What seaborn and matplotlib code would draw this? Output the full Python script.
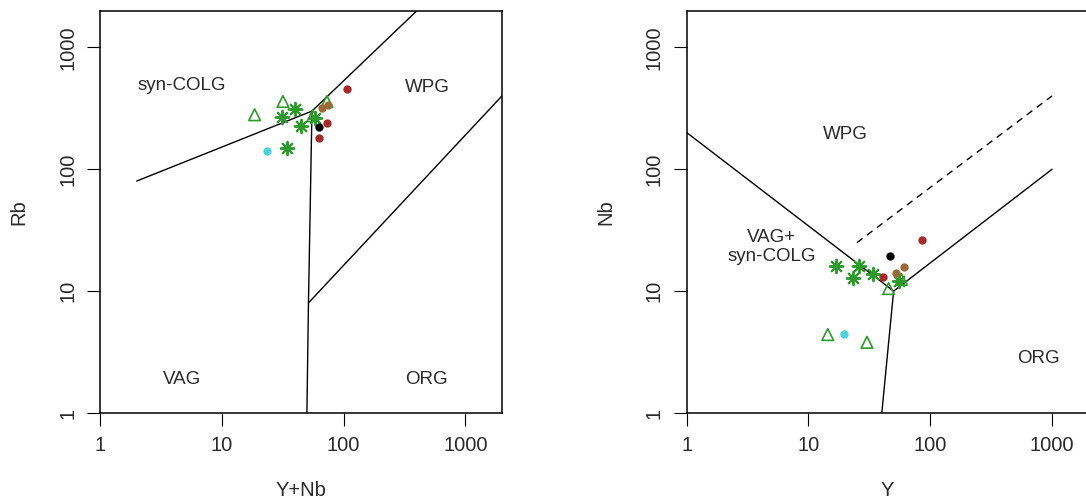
import numpy as np
import pandas as pd
import matplotlib
matplotlib.use("Agg")
import matplotlib.pyplot as plt
import seaborn as sns

# ---------------- data ----------------
tick_values = [1, 10, 100, 1000]
tick_labels = ["1", "10", "100", "1000"]
axis_limits = [1, 2000]

# Panel A: Rb vs Y+Nb
a_red_x = [106, 73.5, 62.8]
a_red_y = [455, 238, 182]
a_brown_x = [67, 75]
a_brown_y = [320, 335]
a_black_x = [62.4]
a_black_y = [223]
a_cyan_x = [23.5]
a_cyan_y = [140]
a_star_x = [34.5, 44.4, 31.4, 39.7, 58]
a_star_y = [149, 227, 269, 312, 262]
a_tri_x = [18.6, 31.8, 73, 56]
a_tri_y = [280, 360, 360, 275]

# Panel B: Nb vs Y
b_red_x = [85.3, 40.6]
b_red_y = [26.5, 13]
b_brown_x = [61, 52.3]
b_brown_y = [15.7, 14.1]
b_black_x = [46.4]
b_black_y = [19.3]
b_cyan_x = [19.7]
b_cyan_y = [4.45]
b_star_x = [16.7, 26.2, 23.1, 33.7, 55]
b_star_y = [16, 16, 12.8, 13.7, 12]
b_tri_x = [14.4, 30.2, 45.5, 58]
b_tri_y = [4.4, 3.8, 10.5, 12.5]

# Field boundaries (Pearce et al. 1984)
a_bound_1_x = [2, 55, 400]
a_bound_1_y = [80, 300, 2000]
a_bound_2_x = [55, 51.5, 50]
a_bound_2_y = [300, 8, 1]
a_bound_3_x = [51.5, 2000]
a_bound_3_y = [8, 400]

b_bound_1_x = [1, 50, 1000]
b_bound_1_y = [200, 10, 100]
b_bound_2_x = [50, 40]
b_bound_2_y = [10, 1]
b_dash_x = [25, 1000]
b_dash_y = [25, 400]

# Field labels
a_field_names = ["syn-COLG", "WPG", "VAG", "ORG"]
a_field_x = [4.7, 488, 4.7, 480]
a_field_y = [490, 470, 1.87, 1.87]
b_field_names = ["WPG", "VAG+\nsyn-COLG", "ORG"]
b_field_x = [20, 5.0, 780]
b_field_y = [194, 23, 2.8]

# ---------------- style ----------------
sns.set_style("ticks")
plt.rcParams["font.family"] = ["Liberation Sans", "DejaVu Sans"]
FS = 14.5
FS_FIELD = 13.5
TXT = "#2a2a2a"

RED = "#A52A2A"
BROWN = "#9A6A3A"
BLACK = "#000000"
CYAN = "#4FD1D9"
GREEN = "#2E9A2E"

fig = plt.figure(figsize=(10.86, 5.01), dpi=100)
W, H = 1086, 501
ax1 = fig.add_axes([100 / W, 88 / H, 402 / W, 402.3 / H])
ax2 = fig.add_axes([686.7 / W, 88 / H, 402 / W, 402.3 / H])


def draw_points(ax, groups):
    for xs, ys, kind, col in groups:
        df = pd.DataFrame({"x": xs, "y": ys})
        if kind == "dot":
            sns.scatterplot(data=df, x="x", y="y", ax=ax, color=col, marker="o",
                            s=36, linewidth=0, zorder=3, legend=False)
        elif kind == "star":
            sns.scatterplot(data=df, x="x", y="y", ax=ax, color=col, marker=(8, 2, 0),
                            s=95, linewidth=1.4, zorder=3, legend=False)
        elif kind == "tri":
            sns.scatterplot(data=df, x="x", y="y", ax=ax, color=col, marker="^",
                            s=70, linewidth=1.2, zorder=3, legend=False)
            coll = ax.collections[-1]
            coll.set_facecolor("none")
            coll.set_edgecolor(col)


def style_axes(ax, xlabel, ylabel):
    ax.set_xscale("log")
    ax.set_yscale("log")
    ax.set_xlim(axis_limits)
    ax.set_ylim(axis_limits)
    ax.set_xticks(tick_values)
    ax.set_xticklabels(tick_labels)
    ax.set_yticks(tick_values)
    ax.set_yticklabels(tick_labels)
    ax.minorticks_off()
    ax.tick_params(axis="both", length=9.4, width=0.8, color="black",
                   labelsize=FS, labelcolor=TXT, direction="out")
    ax.tick_params(axis="x", pad=7)
    ax.tick_params(axis="y", pad=7)
    for lab in ax.get_yticklabels():
        lab.set_rotation(90)
        lab.set_va("center")
    for sp in ax.spines.values():
        sp.set_visible(True)
        sp.set_linewidth(1.1)
        sp.set_color("black")
    ax.set_xlabel(xlabel, fontsize=FS, color=TXT)
    ax.set_ylabel(ylabel, fontsize=FS, color=TXT)
    ax.xaxis.label.set_va("center")
    ax.yaxis.label.set_va("center")
    ax.xaxis.set_label_coords(0.5, (413 - 490) / 402.3)
    ax.yaxis.set_label_coords((19 - 100) / 402, 0.5)
    ax.set_facecolor("white")


LW = 1.0
# Panel A
ax1.plot(a_bound_1_x, a_bound_1_y, color="black", lw=LW, zorder=2)
ax1.plot(a_bound_2_x, a_bound_2_y, color="black", lw=LW, zorder=2)
ax1.plot(a_bound_3_x, a_bound_3_y, color="black", lw=LW, zorder=2)
draw_points(ax1, [
    (a_tri_x, a_tri_y, "tri", GREEN),
    (a_star_x, a_star_y, "star", GREEN),
    (a_red_x, a_red_y, "dot", RED),
    (a_brown_x, a_brown_y, "dot", BROWN),
    (a_black_x, a_black_y, "dot", BLACK),
    (a_cyan_x, a_cyan_y, "dot", CYAN),
])
for name, x, y in zip(a_field_names, a_field_x, a_field_y):
    ax1.text(x, y, name, ha="center", va="center", fontsize=FS_FIELD, color=TXT)
style_axes(ax1, "Y+Nb", "Rb")

# Panel B
ax2.plot(b_bound_1_x, b_bound_1_y, color="black", lw=LW, zorder=2)
ax2.plot(b_bound_2_x, b_bound_2_y, color="black", lw=LW, zorder=2)
ax2.plot(b_dash_x, b_dash_y, color="black", lw=LW, dashes=(5, 4), zorder=2)
draw_points(ax2, [
    (b_tri_x, b_tri_y, "tri", GREEN),
    (b_star_x, b_star_y, "star", GREEN),
    (b_red_x, b_red_y, "dot", RED),
    (b_brown_x, b_brown_y, "dot", BROWN),
    (b_black_x, b_black_y, "dot", BLACK),
    (b_cyan_x, b_cyan_y, "dot", CYAN),
])
for name, x, y in zip(b_field_names, b_field_x, b_field_y):
    ax2.text(x, y, name, ha="center", va="center", fontsize=FS_FIELD, color=TXT,
             linespacing=1.1)
style_axes(ax2, "Y", "Nb")

fig.savefig("out.png", dpi=100, facecolor="white")
